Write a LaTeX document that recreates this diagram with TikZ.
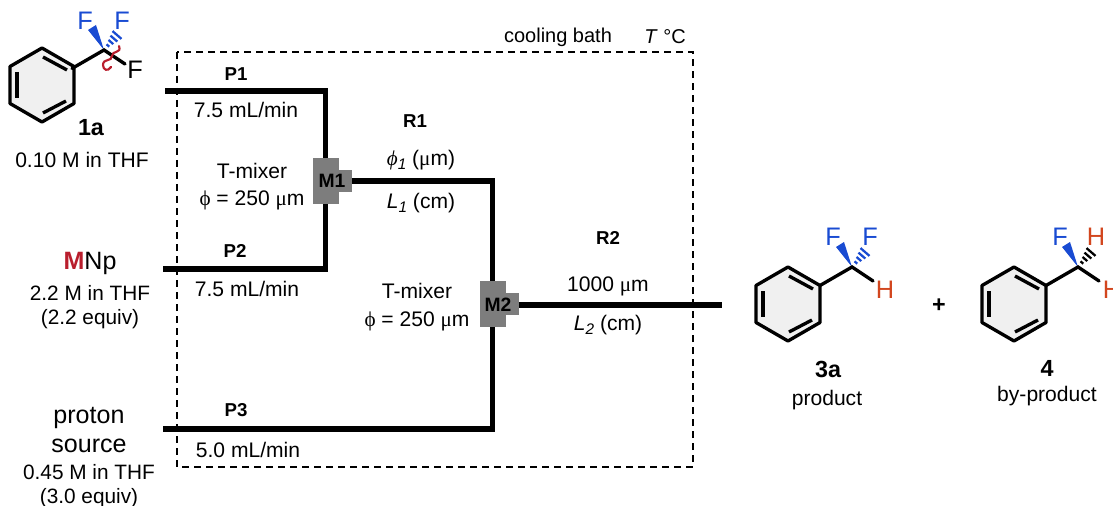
\documentclass[tikz,border=0pt]{standalone}
\usepackage{fontspec}
\setmainfont{Liberation Sans}
\newfontfamily\greekfont{Liberation Serif}
\usetikzlibrary{arrows.meta, positioning, calc}
\definecolor{fblue}{RGB}{25,75,210}
\definecolor{hred}{RGB}{210,70,30}
\definecolor{cutred}{RGB}{185,30,45}
\definecolor{mixgray}{RGB}{125,125,125}
\newcommand{\subnum}[1]{\raisebox{-3pt}{\fontsize{11.5}{12}\selectfont\textit{#1}}}

\begin{document}
\begin{tikzpicture}[
    x=0.75pt, y=-0.75pt,
    txt/.style={inner sep=0pt, font=\fontsize{15.8}{19.5}\selectfont, align=center},
    conc/.style={inner sep=0pt, font=\fontsize{15.6}{18}\selectfont, align=center},
    big/.style={inner sep=0pt, font=\fontsize{18.8}{22}\selectfont, align=center},
    tag/.style={inner sep=0pt, font=\fontsize{14}{16}\selectfont\bfseries},
    cpd/.style={inner sep=0pt, font=\fontsize{17.5}{20}\selectfont\bfseries},
    atom/.style={inner sep=0pt, font=\fontsize{19}{22}\selectfont},
    pipe/.style={line width=4pt},
    bath/.style={line width=1.5pt, dash pattern=on 5pt off 4pt},
    mixer/.style={rectangle, fill=mixgray, inner sep=0pt, minimum width=19.5pt, minimum height=34.5pt},
    mixtip/.style={rectangle, fill=mixgray, inner sep=0pt, minimum width=9.5pt, minimum height=17pt},
    mixtag/.style={inner sep=0pt, font=\fontsize{14.5}{16}\selectfont\bfseries},
    pics/ring/.style={code={
        \draw[line width=2.5pt, fill=black!6, line join=round] (0,-37) -- (32,-18.5) -- (32,18.5) -- (0,37) -- (-32,18.5) -- (-32,-18.5) -- cycle;
        \draw[line width=2.5pt] (-25,-13) -- (-25,13);
        \draw[line width=2.5pt] (1,-28) -- (25,-15);
        \draw[line width=2.5pt] (1,28) -- (24,16);
    }},
    pics/stereo/.style={code={
        \fill[fblue] (0,0) -- (-16,-20) -- (-8,-25) -- cycle;
        \foreach \t in {0.3,0.53,0.76,1} {
            \draw[#1, line width=1.7pt] ({8.5*\t},{-18.9*\t}) -- ({17.5*\t},{-11.1*\t});
        }
        \draw[line width=2.5pt, line cap=round] (-32,18.5) -- (0,0) -- (21,14);
    }},
]
    \useasboundingbox (0,0) rectangle (1113,506);
    \clip (0,0) rectangle (1113,506);

    % cooling bath
    \draw[bath] (177,52) rectangle (693,467);
    \node (bathname) [txt, font=\fontsize{15}{18}\selectfont] at (558,37) {cooling bath};
    \node (bathtemp) [txt, font=\fontsize{15}{18}\selectfont] at (665,37) {\textit{T} °C};

    % mixers
    \node (M1b) [mixer] at (325.5,181) {};
    \node (M1t) [mixtip, right=0pt of M1b] {};
    \node (M1) [mixtag] at (332,181) {M1};
    \node (M2b) [mixer] at (492.5,304) {};
    \node (M2t) [mixtip, right=0pt of M2b] {};
    \node (M2) [mixtag] at (498,305) {M2};

    % pumps and reactors
    \coordinate (P1in) at (165,91);
    \coordinate (P2in) at (163,269);
    \coordinate (P3in) at (163,429);
    \coordinate (out) at (722,305);
    \draw[pipe] (P1in) -| (M1b);
    \draw[pipe] (P2in) -| (M1b);
    \draw[pipe] (M1t) -| (M2b);
    \draw[pipe] (P3in) -| (M2b);
    \draw[pipe] (M2t.east |- out) -- (out);

    \node (P1) [tag] at (236,74) {P1};
    \node (flow1) [txt] at (246,110) {7.5 mL/min};
    \node (P2) [tag] at (235,251) {P2};
    \node (flow2) [txt] at (247,289) {7.5 mL/min};
    \node (P3) [tag] at (236,410) {P3};
    \node (flow3) [txt] at (248,450) {5.0 mL/min};

    \node (tmix1) [txt] at (252,186.5) {T-mixer\\[1pt]{\greekfont ϕ} = 250 {\greekfont μ}m};
    \node (tmix2) [txt] at (417,307) {T-mixer\\[1pt]{\greekfont ϕ} = 250 {\greekfont μ}m};

    \node (R1) [tag] at (415,121) {R1};
    \node (dia1) [txt] at (421,160) {{\greekfont\itshape ϕ}\subnum{1} ({\greekfont μ}m)};
    \node (len1) [txt] at (421,203) {\textit{L}\subnum{1} (cm)};
    \node (R2) [tag] at (608,238) {R2};
    \node (dia2) [txt] at (608,286) {1000 {\greekfont μ}m};
    \node (len2) [txt] at (608,325) {\textit{L}\subnum{2} (cm)};

    % 1a
    \path (42,85) pic {ring};
    \path (104,50) pic {stereo=fblue};
    \draw[cutred, line width=1.6pt, line cap=round] (119,46) .. controls (122,54) and (112,50) .. (112,56) .. controls (112,62) and (103,58) .. (103,65) .. controls (103,70) and (108,72) .. (111,67);
    \node (Fa1) [atom, text=fblue] at (85,21) {F};
    \node (Fa2) [atom, text=fblue] at (122,21) {F};
    \node (Fa3) [atom] at (135,70) {F};
    \node (name1a) [cpd] at (91,128) {1a};
    \node (conc1a) [txt] at (82,160) {0.10 M in THF};

    % MNp
    \node (MNp) [big] at (90,263) {\textcolor{cutred}{\bfseries M}Np};
    \node (concM) [conc, below=8pt of MNp] {2.2 M in THF\\(2.2 equiv)};

    % proton source
    \node (proton) [big] at (89,430) {proton\\source};
    \node (concH) [conc, below=8pt of proton] {0.45 M in THF\\(3.0 equiv)};

    % 3a
    \path (788,304) pic {ring};
    \path (852,267) pic {stereo=fblue};
    \node (Fb1) [atom, text=fblue] at (833,237) {F};
    \node (Fb2) [atom, text=fblue] at (870,237) {F};
    \node (Hb) [atom, text=hred] at (885,290) {H};
    \node (name3a) [cpd] at (828,369) {3a};
    \node (label3a) [txt] at (827,400) {product};

    \node (plus) [cpd] at (939,306) {+};

    % 4
    \path (1014,304) pic {ring};
    \path (1078,267) pic {stereo=black};
    \node (Fc) [atom, text=fblue] at (1060,237) {F};
    \node (Hc1) [atom, text=hred] at (1096,237) {H};
    \node (Hc2) [atom, text=hred] at (1112,290) {H};
    \node (name4) [cpd] at (1047,368) {4};
    \node (label4) [txt] at (1047,396) {by-product};
\end{tikzpicture}
\end{document}
